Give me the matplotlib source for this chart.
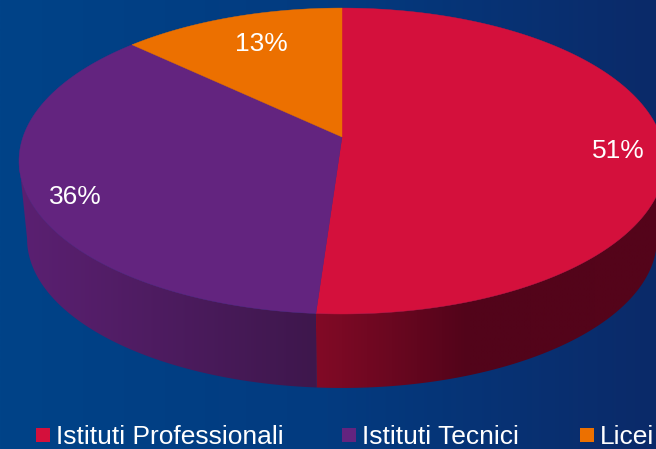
import numpy as np
import matplotlib
matplotlib.use('Agg')
import matplotlib.pyplot as plt
from matplotlib.colors import LinearSegmentedColormap
from matplotlib.patches import Polygon, Rectangle

plt.rcParams['font.family'] = ['Liberation Sans', 'DejaVu Sans']

# Data
categories = ['Istituti Professionali', 'Istituti Tecnici', 'Licei']
values = [51.1, 35.9, 13]
labels = ['51%', '36%', '13%']
colors = ['#d4103c', '#63247f', '#ec7000']

W, H = 656, 449
fig = plt.figure(figsize=(W / 100, H / 100), dpi=100)
ax = fig.add_axes([0, 0, 1, 1])


def hgrad(stops, extent, zorder, clip=None):
    cmap = LinearSegmentedColormap.from_list('g', stops)
    grad = np.linspace(0, 1, 256).reshape(1, -1)
    im = ax.imshow(grad, extent=extent, aspect='auto', cmap=cmap, zorder=zorder, interpolation='bilinear')
    if clip is not None:
        im.set_clip_path(clip)
    return im


# Perspective projection of the circular pie
K = 0.157
A, B = 319, 149.2
CX, CY = 342, 137


def project(theta, scale=1.0, drop=0.0):
    u, v = np.sin(theta), np.cos(theta)
    d = 1 + K * v
    return np.column_stack([CX + scale * A * u / d, CY + drop - scale * B * v / d])


# Background
hgrad([(0, '#004388'), (0.5, '#033b80'), (1, '#0b2a69')], [0, W, H, 0], 0)

# Slice angles from the values, clockwise from the top
edges = np.cumsum([0] + values) / sum(values) * 2 * np.pi

# Side walls, only the first two slices show in front
red_side = [(0, '#820a26'), (0.44, '#52041a'), (1, '#55041a')]
purple_side = [(0, '#5b2072'), (1, '#3e174c')]
side_colors = [(red_side, [316, 660, 400, 0]), (purple_side, [18, 318, 400, 0])]
for i in range(2):
    t = np.linspace(edges[i], edges[i + 1], 400)
    upper = project(t)
    lower = project(t, 0.975, 78.4)
    # keep the part of each arc on the front, so the outline runs from rim to rim
    if i == 0:
        upper = upper[np.argmax(upper[:, 0]):]
        lower = lower[np.argmax(lower[:, 0]):]
    else:
        upper = upper[:np.argmin(upper[:, 0]) + 1]
        lower = lower[:np.argmin(lower[:, 0]) + 1]
    wall = Polygon(np.vstack([upper, lower[::-1]]), closed=True, transform=ax.transData, fc='none', ec='none')
    ax.add_patch(wall)
    hgrad(side_colors[i][0], side_colors[i][1], 1, clip=wall)

# Top of the pie
for i in range(3):
    t = np.linspace(edges[i], edges[i + 1], 200)
    pts = np.vstack([[CX, CY], project(t)])
    ax.add_patch(Polygon(pts, closed=True, fc=colors[i], ec=colors[i], lw=0.3, zorder=2))

# Value labels
label_pos = [(618, 151), (75, 197), (261, 44)]
for txt, (x, y) in zip(labels, label_pos):
    ax.text(x, y, txt, color='white', fontsize=19, ha='center', va='center', zorder=3)

# Legend
legend_x = [36, 342, 580]
for name, col, x in zip(categories, colors, legend_x):
    ax.add_patch(Rectangle((x, 428), 13.5, 13.5, fc=col, ec='none', zorder=3))
    ax.text(x + 20, 437, name, color='white', fontsize=19, ha='left', va='center', zorder=3)

ax.set_xlim(0, W)
ax.set_ylim(H, 0)
ax.axis('off')

fig.savefig('out.png', dpi=100)
